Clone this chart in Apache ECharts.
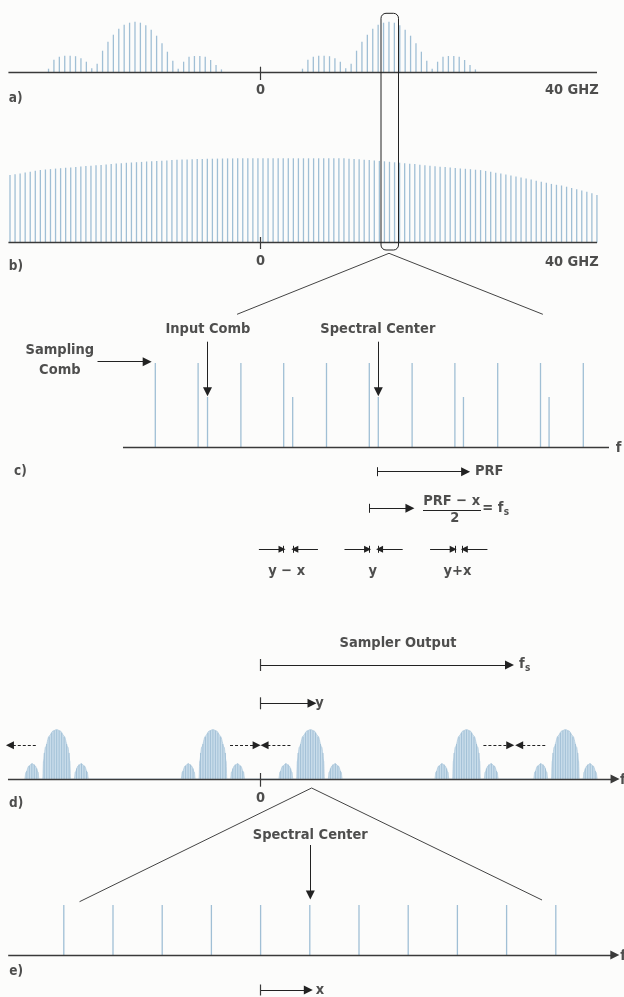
<!DOCTYPE html>
<html><head><meta charset="utf-8">
<script src="https://cdn.jsdelivr.net/npm/echarts@6/dist/echarts.min.js"></script>
<style>html,body{margin:0;padding:0;background:#fcfcfb}#c{width:624px;height:997px}</style>
</head><body><div id="c"></div><script>
const FONT = '"DejaVu Sans Condensed","Liberation Sans Narrow","DejaVu Sans",sans-serif';
const INK = '#222222';
const AXIS = '#3a3a3a';
const COMB = '#a0bfd5';
const LOBE_FILL = '#c8dcea';
const LOBE_HATCH = '#a3c1d7';

// ---------- Panel a: input spectrum (comb lines, GHz axis) ----------
const abAxisRange = [-30, 40];            // GHz
const aSlotCount = 109;                    // comb slots across the axis
const aGroupStartSlots = [7, 54];          // first comb line of each spectral group
const aLobeProfile = [4, 13, 16, 17, 17, 16.5, 14.5, 11, 4.5,
  9, 22, 31, 38, 44, 48, 50, 51, 50, 47.5, 43, 37, 29.5, 21, 12, 4,
  11, 16, 16.7, 16.7, 16, 12.7, 7.7, 3.3];
const abTickLabels = ['0', '40 GHZ'];
const selectBoxX = [14.33, 16.41];         // GHz
const selectBoxY = [-177.3, 59.4];

// ---------- Panel b: sampling comb ----------
const bComb = [67.7, 68.5, 69.3, 70.2, 71, 72, 72.7, 73.2, 73.6, 74.1,
  74.5, 74.9, 75.3, 75.7, 76.1, 76.6, 77, 77.4, 77.8, 78.3,
  78.7, 79.1, 79.5, 79.9, 80.2, 80.5, 80.8, 81.2, 81.5, 81.8,
  82, 82.3, 82.6, 82.9, 83.1, 83.3, 83.5, 83.7, 83.8, 83.9,
  84, 84.1, 84.2, 84.3, 84.3, 84.4, 84.4, 84.4, 84.4, 84.4,
  84.4, 84.4, 84.4, 84.4, 84.4, 84.4, 84.4, 84.4, 84.4, 84.4,
  84.4, 84.4, 84.4, 84.4, 84.4, 84.4, 84.4, 84, 83.7, 83.4,
  83, 82.6, 82.2, 81.8, 81.4, 80.9, 80.4, 80, 79.5, 79,
  78.6, 78, 77.5, 77, 76.5, 76, 75.6, 75.2, 74.8, 74.3,
  73.9, 73.5, 73, 72.6, 71.8, 71, 70, 69.2, 68.2, 67.2,
  66.2, 65.2, 64.2, 63.1, 62, 60.9, 59.9, 58.8, 57.9, 57.2,
  56, 54.7, 53.4, 52.2, 51, 49.5, 47.7];

// ---------- Panel c: zoomed combs (units of sampling PRF) ----------
const cSamplingPos = [-5, -4, -3, -2, -1, 0, 1, 2, 3, 4, 5];
const cSamplingHeights = [84, 84, 84, 84, 84, 84, 84, 84, 84, 84, 84];
const cInputPos = [-3.78, -1.79, 0.21, 2.2, 4.2];
const cInputHeights = [50, 50, 50, 50, 50];
const cPairTicks = [[-2, -1.78], [0, 0.2], [2, 2.18]];
const cPairLabels = ['y − x', 'y', 'y+x'];
const cPairLabelPos = [-1.93, 0.08, 2.06];

// ---------- Panel d: sampler output (percent of fs) ----------
const dGroupCenters = [-82.1, -19.2, 20.1, 82.9, 122.7];
// outline of one group of lobes (offset from group centre, height)
const dOutlineOffsets = [-12.8, -12.3, -11.2, -9.9, -8.6, -7.5, -7.1,
  -5.6, -5.3, -4.5, -3, -1.5, 0, 1.5, 3, 4.5, 5.3, 5.6,
  7.1, 7.5, 8.6, 9.9, 11.2, 12.3, 12.8];
const dOutlineHeights = [0, 7, 13, 15.5, 13, 7, 0,
  0, 18, 32, 43, 48, 49.5, 48, 43, 32, 18, 0,
  0, 7, 13, 15.5, 13, 7, 0];
// hatch lines inside the lobes
const dHatchOffsets = [-12, -11, -10, -9, -8, -5, -4, -3, -2, -1, 0, 1, 2, 3, 4, 5, 8, 9, 10, 11, 12];
const dHatchHeights = [8, 13, 15.3, 14.5, 10.5, 26, 35, 42, 46, 48.5, 49, 48.5, 46, 42, 35, 26, 10.5, 14.5, 15.3, 13, 8];

// ---------- Panel e: zoomed output comb (units of x) ----------
const eCombPos = [-4, -3, -2, -1, 0, 1, 2, 3, 4, 5, 6];
const eCombHeights = [50, 50, 50, 50, 50, 50, 50, 50, 50, 50, 50];

// ---------- layout ----------
const P = {
  A: {x: 0, y: 0}, Abar: {x: 1, y: 0},
  B: {x: 2, y: 1}, Bbar: {x: 3, y: 2},
  C: {x: 4, y: 3}, D: {x: 5, y: 4}, E: {x: 6, y: 5}
};
const g = (left, top, width, height) => ({left, top, width, height, containLabel: false, outerBoundsMode: 'none', show: false});
const grids = [
  g(8, 0, 589, 120),      // a
  g(8, 120, 589, 140),    // b axis
  g(7.47, 120, 592, 140), // b comb
  g(0, 260, 624, 370),    // c
  g(0, 625, 624, 185),    // d
  g(0, 800, 624, 197)     // e
];
const vx = (gi, min, max) => ({type: 'value', gridIndex: gi, min, max, show: false});
const cx = (gi, n) => ({type: 'category', gridIndex: gi, data: Array.from({length: n}, (_, i) => String(i)), boundaryGap: true, show: false, position: 'top'});
const vy = (gi, min, max) => ({type: 'value', gridIndex: gi, min, max, show: false});
const xAxes = [
  vx(0, abAxisRange[0], abAxisRange[1]), cx(0, aSlotCount),
  vx(1, abAxisRange[0], abAxisRange[1]), cx(2, bComb.length),
  vx(3, -8.6285, 5.9509), vx(4, -104.911, 146.296), vx(5, -5.2967, 7.3862)
];
const yAxes = [vy(0, -47.3, 72.7), vy(1, -17.3, 122.7), vy(2, -17.3, 122.7),
  vy(3, -183, 187), vy(4, -31, 154), vy(5, -42, 155)];

function lines(p, list, o = {}) {
  return {
    type: 'lines', coordinateSystem: 'cartesian2d', xAxisIndex: p.x, yAxisIndex: p.y,
    polyline: !!o.polyline, silent: true, z: o.z || 5, clip: false,
    symbol: o.arrow ? ['none', 'triangle'] : ['none', 'none'],
    symbolSize: o.arrowSize || [5, 9],
    lineStyle: {color: o.color || INK, width: o.width || 1, type: o.dashed ? [3, 2] : 'solid', opacity: 1, curveness: 0},
    data: list.map(c => ({coords: c}))
  };
}
function texts(p, list) {
  return {
    type: 'scatter', xAxisIndex: p.x, yAxisIndex: p.y, symbol: 'circle', symbolSize: 1,
    itemStyle: {color: 'rgba(0,0,0,0)'}, clip: false, silent: true, z: 6,
    data: list.map(t => ({
      value: [t.x, t.y],
      label: {show: true, position: 'inside', formatter: t.text, align: t.align || 'center', verticalAlign: 'middle',
        fontSize: t.size || 14.5, fontWeight: 'bold', fontFamily: FONT, color: INK}
    }))
  };
}
function bars(p, data, width, style, z) {
  return {type: 'bar', xAxisIndex: p.x, yAxisIndex: p.y, data, barWidth: width, silent: true, z: z || 2,
    itemStyle: style, animation: false};
}

// panel a comb heights
const aHeights = new Array(aSlotCount).fill(null);
aGroupStartSlots.forEach(s => aLobeProfile.forEach((h, i) => { aHeights[s + i] = h; }));
// panel c comb data
const cComb = cSamplingPos.map((x, i) => [x, cSamplingHeights[i]])
  .concat(cInputPos.map((x, i) => [x, cInputHeights[i]]));
// panel d lobes
const dOutline = [], dHatch = [];
dGroupCenters.forEach(c => {
  dOutlineOffsets.forEach((o, i) => dOutline.push([c + o, dOutlineHeights[i]]));
  dHatchOffsets.forEach((o, i) => dHatch.push([c + o, dHatchHeights[i]]));
});
// panel e comb
const eComb = eCombPos.map((x, i) => [x, eCombHeights[i]]);

const series = [
  // ---- a ----
  bars(P.Abar, aHeights, 1.3, {color: COMB}),
  lines(P.A, [[[-29.95, 0], [40, 0]]], {color: AXIS, width: 1.3}),
  lines(P.A, [[[0, 6], [0, -7.3]]], {color: AXIS, width: 1.2}),
  texts(P.A, [
    {x: -29.9, y: -25.3, text: 'a)', align: 'left', size: 13.5},
    {x: 0, y: -18, text: abTickLabels[0]},
    {x: 40.2, y: -18, text: abTickLabels[1], align: 'right'}
  ]),
  {
    type: 'custom', xAxisIndex: 0, yAxisIndex: 0, clip: false, silent: true, z: 7,
    data: [[selectBoxX[0], selectBoxX[1], selectBoxY[0], selectBoxY[1]]],
    encode: {x: [0, 1], y: [2, 3]},
    renderItem: (params, api) => {
      const tl = api.coord([api.value(0), api.value(3)]);
      const br = api.coord([api.value(1), api.value(2)]);
      return {type: 'rect', shape: {x: tl[0], y: tl[1], width: br[0] - tl[0], height: br[1] - tl[1], r: 5},
        style: {fill: 'none', stroke: INK, lineWidth: 1}};
    }
  },
  // ---- b ----
  bars(P.Bbar, bComb, 1.3, {color: COMB}),
  lines(P.B, [[[-29.95, 0], [40, 0]]], {color: AXIS, width: 1.3}),
  lines(P.B, [[[0, 5.7], [0, -6.3]]], {color: AXIS, width: 1.2}),
  texts(P.B, [
    {x: -29.9, y: -24, text: 'b)', align: 'left', size: 13.5},
    {x: 0, y: -19, text: abTickLabels[0]},
    {x: 40.2, y: -19.3, text: abTickLabels[1], align: 'right'}
  ]),
  // ---- c ----
  bars(P.C, cComb, 1.3, {color: COMB}),
  lines(P.C, [[[-5.755, 0], [5.6, 0]]], {color: AXIS, width: 1.3}),
  lines(P.C, [[[-3.09, 132.7], [0.46, 193.7], [4.055, 132.7]]], {polyline: true, color: '#444', width: 1}),
  lines(P.C, [
    [[-6.35, 85.3], [-5.19, 85.3]],
    [[-3.78, 105.3], [-3.78, 55.3]],
    [[0.21, 105.3], [0.21, 55.3]],
    [[0.185, -24.7], [2.25, -24.7]],
    [[0, -61.3], [0.95, -61.3]]
  ], {arrow: true}),
  lines(P.C, cPairTicks.flatMap(t => [
    [[t[0] - 0.58, -102.3], [t[0] - 0.04, -102.3]],
    [[t[1] + 0.58, -102.3], [t[1] + 0.04, -102.3]]
  ]), {arrow: true, arrowSize: [4, 7]}),
  lines(P.C, [
    [[0.185, -20.2], [0.185, -29.2]],
    [[0, -56.8], [0, -65.8]],
    [[1.255, -63], [2.61, -63]]
  ].concat(cPairTicks.flatMap(t => [
    [[t[0], -98.8], [t[0], -105.8]],
    [[t[1], -98.8], [t[1], -105.8]]
  ]))),
  texts(P.C, [
    {x: -7.23, y: 97, text: 'Sampling'},
    {x: -7.23, y: 77, text: 'Comb'},
    {x: -3.77, y: 117.7, text: 'Input Comb'},
    {x: 0.2, y: 117.7, text: 'Spectral Center'},
    {x: -8.3, y: -24.7, text: 'c)', align: 'left', size: 13.5},
    {x: 2.47, y: -24.7, text: 'PRF', align: 'left'},
    {x: 1.925, y: -54.7, text: 'PRF − x'},
    {x: 2.0, y: -71.3, text: '2'},
    {x: 2.64, y: -61.3, text: '= f', align: 'left'},
    {x: 3.14, y: -65, text: 's', align: 'left', size: 10},
    {x: 5.76, y: -1, text: 'f', align: 'left'}
  ].concat(cPairLabels.map((t, i) => ({x: cPairLabelPos[i], y: -124.7, text: t})))),
  // ---- d ----
  {
    type: 'line', xAxisIndex: P.D.x, yAxisIndex: P.D.y, data: dOutline, smooth: 0.35, smoothMonotone: 'x',
    symbol: 'none', silent: true, z: 2, clip: false,
    lineStyle: {width: 0.6, color: LOBE_HATCH}, areaStyle: {color: LOBE_FILL, opacity: 1}
  },
  bars(P.D, dHatch, 0.7, {color: LOBE_HATCH}, 3),
  lines(P.D, [[[-101.7, 0], [142.7, 0]]], {color: AXIS, width: 1.3, arrow: true}),
  lines(P.D, [[[0, 6], [0, -7.7]], [[0, 120], [0, 108]], [[0, 81.7], [0, 69.7]]], {color: AXIS, width: 1.2}),
  lines(P.D, [[[0, 114], [100.2, 114]], [[0, 75.7], [20.7, 75.7]]], {arrow: true}),
  lines(P.D, [
    [[-90.5, 33.7], [-100.9, 33.7]],
    [[-12.3, 33.7], [-1.6, 33.7]],
    [[12, 33.7], [1.6, 33.7]],
    [[89.7, 33.7], [100.5, 33.7]],
    [[114.6, 33.7], [104.1, 33.7]]
  ], {arrow: true, dashed: true, arrowSize: [5, 8]}),
  texts(P.D, [
    {x: 55.3, y: 135.7, text: 'Sampler Output'},
    {x: 104, y: 115, text: 'f', align: 'left'},
    {x: 106.4, y: 110.5, text: 's', align: 'left', size: 10},
    {x: 22, y: 75.7, text: 'y', align: 'left'},
    {x: 0, y: -19.3, text: '0'},
    {x: -101.3, y: -24.3, text: 'd)', align: 'left', size: 13.5},
    {x: 144.7, y: -1, text: 'f', align: 'left'}
  ]),
  // ---- e ----
  bars(P.E, eComb, 1.3, {color: COMB}),
  lines(P.E, [[[-5.13, 0], [7.2, 0]]], {color: AXIS, width: 1.3, arrow: true}),
  lines(P.E, [[[-3.68, 53.3], [1.037, 167], [5.72, 55]]], {polyline: true, color: '#444', width: 1}),
  lines(P.E, [[[1.01, 110], [1.01, 60]], [[0, -35], [0.97, -35]]], {arrow: true}),
  lines(P.E, [[[0, -29.5], [0, -40.5]]], {color: AXIS, width: 1.2}),
  texts(P.E, [
    {x: 1.01, y: 120, text: 'Spectral Center'},
    {x: -5.11, y: -16.7, text: 'e)', align: 'left', size: 13.5},
    {x: 1.12, y: -35, text: 'x', align: 'left'},
    {x: 7.31, y: -1, text: 'f', align: 'left'}
  ])
];

const chart = echarts.init(document.getElementById('c'), null, {renderer: 'canvas'});
chart.setOption({
  backgroundColor: '#fcfcfb',
  animation: false,
  tooltip: {show: false},
  grid: grids,
  xAxis: xAxes,
  yAxis: yAxes,
  series
});
</script></body></html>
